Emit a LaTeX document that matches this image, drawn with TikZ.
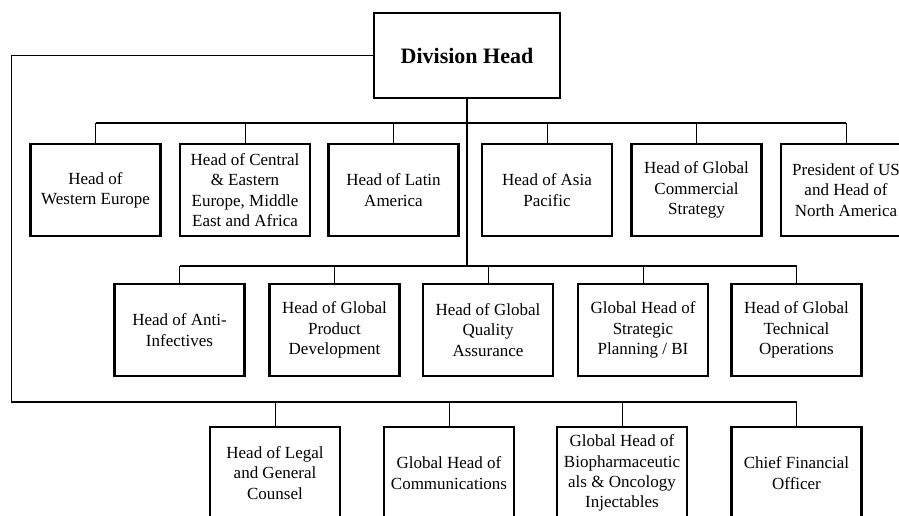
\documentclass[tikz,border=0pt]{standalone}
\usepackage{fontspec}
\setmainfont{Liberation Serif}
\begin{document}
\begin{tikzpicture}[x=1pt,y=-1pt,
  box/.style={draw, line width=2.2pt, minimum width=130pt, minimum height=92pt, align=center,
    font=\fontsize{17}{20.3}\selectfont, inner sep=0pt},
  headbox/.style={draw, line width=2.2pt, minimum width=186pt, minimum height=85pt,
    font=\bfseries\fontsize{22}{24}\selectfont, inner sep=0pt},
  bus/.style={line width=1.8pt},
  drop/.style={line width=1pt}]
\useasboundingbox (0,0) rectangle (899,515);
\clip (0,0) rectangle (899,515);
\fill[white] (0,0) rectangle (899,515);
% head
\node[headbox] (dh) at (467,55.5) {Division Head};
% row 1
\node[box] (a1) at (95.5,190) {Head of\\Western Europe};
\node[box] (a2) at (245,190) {Head of Central\\\& Eastern\\Europe, Middle\\East and Africa};
\node[box] (a3) at (393.5,190) {Head of Latin\\America};
\node[box] (a4) at (547,190) {Head of Asia\\Pacific};
\node[box] (a5) at (696.5,190) {Head of Global\\Commercial\\Strategy};
\node[box] (a6) at (846,190) {President of US\\and Head of\\North America};
% row 2
\node[box] (b1) at (179.5,330) {Head of Anti-\\Infectives};
\node[box] (b2) at (334.5,330) {Head of Global\\Product\\Development};
\node[box] (b3) at (488,330) {Head of Global\\Quality\\Assurance};
\node[box] (b4) at (643,330) {Global Head of\\Strategic\\Planning / BI};
\node[box] (b5) at (796.5,330) {Head of Global\\Technical\\Operations};
% row 3
\node[box] (c1) at (275,473) {Head of Legal\\and General\\Counsel};
\node[box] (c2) at (449,473) {Global Head of\\Communications};
\node[box] (c3) at (622,473) {Global Head of\\Biopharmaceutic\\als \& Oncology\\Injectables};
\node[box] (c4) at (796.5,473) {Chief Financial\\Officer};
% bus coordinates
\coordinate (y1) at (0,123);
\coordinate (y2) at (0,266);
\coordinate (y3) at (11,402);
% connectors
\draw[bus] (dh.south) -- (dh.south |- y2);
\draw[bus] (a1.north |- y1) -- (a6.north |- y1);
\draw[bus] (b1.north |- y2) -- (b5.north |- y2);
\draw[drop] (dh.west) -| (y3);
\draw[bus] (y3) -- (c4.north |- y3);
\foreach \n in {a1,a2,a3,a4,a5,a6} \draw[drop] (\n.north) -- (\n.north |- y1);
\foreach \n in {b1,b2,b3,b4,b5} \draw[drop] (\n.north) -- (\n.north |- y2);
\foreach \n in {c1,c2,c3,c4} \draw[drop] (\n.north) -- (\n.north |- y3);
\end{tikzpicture}
\end{document}
